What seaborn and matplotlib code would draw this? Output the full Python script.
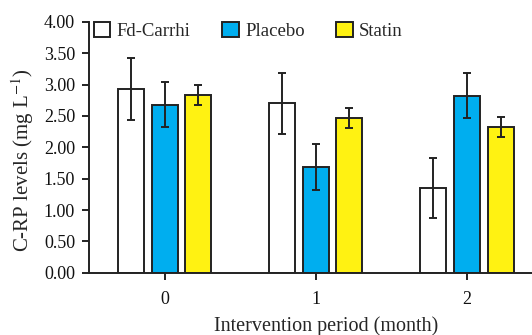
import matplotlib
matplotlib.use("Agg")
import matplotlib.pyplot as plt
import seaborn as sns
import pandas as pd
import numpy as np

months = ["0", "1", "2"]
groups = ["Fd-Carrhi", "Placebo", "Statin"]
fd_carrhi = [2.93, 2.70, 1.35]
placebo = [2.68, 1.69, 2.82]
statin = [2.83, 2.47, 2.32]
fd_err = [0.49, 0.49, 0.48]
placebo_err = [0.36, 0.37, 0.36]
statin_err = [0.16, 0.16, 0.16]
yticks = [0.0, 0.5, 1.0, 1.5, 2.0, 2.5, 3.0, 3.5, 4.0]

colors = ["#FFFFFF", "#00AEEF", "#FFF212"]
edge = "#222222"

sns.set_style("ticks")
plt.rcParams["font.family"] = ["Liberation Serif", "DejaVu Serif"]
plt.rcParams["mathtext.fontset"] = "stix"

vals = [fd_carrhi, placebo, statin]
errs = [fd_err, placebo_err, statin_err]
rows = []
for g, v, e in zip(groups, vals, errs):
    for m, vv, ee in zip(months, v, e):
        rows.append({"month": m, "group": g, "value": vv, "err": ee})
df = pd.DataFrame(rows)

fig = plt.figure(figsize=(5.32, 3.35), dpi=100)
ax = fig.add_axes([89/532, 1-272.9/335, 1-89/532, (272.9-21.7)/335])

sns.barplot(data=df, x="month", y="value", hue="group", order=months,
            hue_order=groups, palette=colors, saturation=1, errorbar=None,
            width=0.667, gap=0.23, edgecolor=edge, linewidth=1.4, ax=ax,
            legend=True)

# error bars from bar positions
bar_conts = list(ax.containers)
for gi, cont in enumerate(bar_conts):
    xs = [p.get_x() + p.get_width()/2 for p in cont.patches]
    hs = [p.get_height() for p in cont.patches]
    ax.errorbar(xs, hs, yerr=errs[gi], fmt="none", ecolor=edge,
                elinewidth=1.4, capsize=3.0, capthick=1.4, zorder=5)

ax.set_ylim(0, 4.0)
ax.set_xlim(-0.5, 2.43)
ax.set_yticks(yticks)
ax.set_yticklabels([f"{t:.2f}" for t in yticks])
ax.set_xlabel("Intervention period (month)", fontsize=14.5)
ax.xaxis.set_label_coords((326 - 89) / (532 - 89), -(326 - 272.9) / (272.9 - 21.7),
                          transform=ax.transAxes)
ax.xaxis.label.set_va("center")
ax.set_ylabel("C-RP levels (mg L$^{-1}$)", fontsize=15)
ax.yaxis.set_label_coords(-(89 - 23) / (532 - 89), (272.9 - 160) / (272.9 - 21.7),
                          transform=ax.transAxes)
ax.yaxis.label.set_va("center")
ax.tick_params(axis="both", labelsize=13, width=1.4, length=5,
               color=edge, labelcolor="#111111", direction="out")
ax.tick_params(axis="x", pad=8)
ax.tick_params(axis="y", pad=5)
for s in ["left", "bottom"]:
    ax.spines[s].set_linewidth(1.4)
    ax.spines[s].set_color(edge)
sns.despine(ax=ax)

leg = ax.legend(loc="upper left", bbox_to_anchor=(86/532, 1-14/335),
                bbox_transform=fig.transFigure, ncol=3, frameon=False,
                fontsize=13.5, handlelength=0.9, handleheight=0.9,
                handletextpad=0.35, columnspacing=1.65, borderaxespad=0)
for h in leg.legend_handles:
    h.set_edgecolor(edge)
    h.set_linewidth(1.4)

fig.savefig("out.png", dpi=100)
